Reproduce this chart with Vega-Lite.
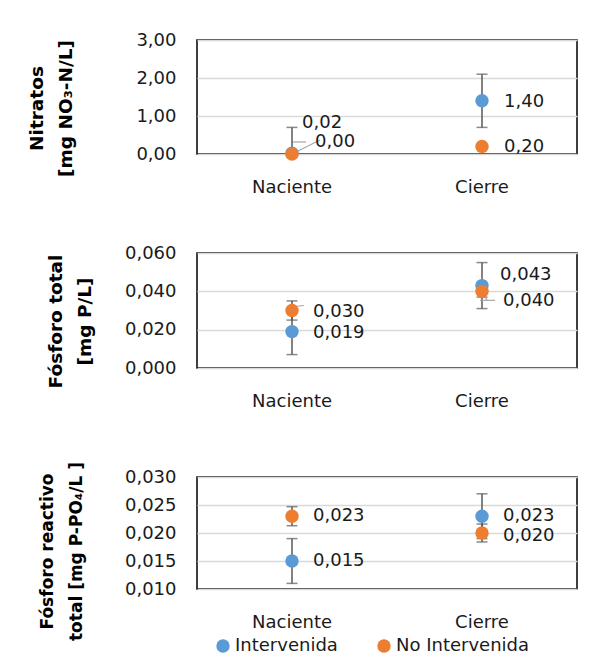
{
  "$schema": "https://vega.github.io/schema/vega-lite/v6.json",
  "autosize": {"type": "pad"},
  "padding": {"left": 26, "top": 30, "right": 5, "bottom": 5},
  "background": "white",
  "data": {
    "values": [
      {"panel": "Nitratos", "sitio": "Naciente", "grupo": "Intervenida", "valor": 0.02, "err": 0.68},
      {"panel": "Nitratos", "sitio": "Naciente", "grupo": "No Intervenida", "valor": 0.00, "err": 0},
      {"panel": "Nitratos", "sitio": "Cierre", "grupo": "Intervenida", "valor": 1.40, "err": 0.70},
      {"panel": "Nitratos", "sitio": "Cierre", "grupo": "No Intervenida", "valor": 0.20, "err": 0},
      {"panel": "Fósforo total", "sitio": "Naciente", "grupo": "Intervenida", "valor": 0.019, "err": 0.012},
      {"panel": "Fósforo total", "sitio": "Naciente", "grupo": "No Intervenida", "valor": 0.030, "err": 0.005},
      {"panel": "Fósforo total", "sitio": "Cierre", "grupo": "Intervenida", "valor": 0.043, "err": 0.012},
      {"panel": "Fósforo total", "sitio": "Cierre", "grupo": "No Intervenida", "valor": 0.040, "err": 0.003},
      {"panel": "Fósforo reactivo total", "sitio": "Naciente", "grupo": "Intervenida", "valor": 0.015, "err": 0.004},
      {"panel": "Fósforo reactivo total", "sitio": "Naciente", "grupo": "No Intervenida", "valor": 0.023, "err": 0.0017},
      {"panel": "Fósforo reactivo total", "sitio": "Cierre", "grupo": "Intervenida", "valor": 0.023, "err": 0.004},
      {"panel": "Fósforo reactivo total", "sitio": "Cierre", "grupo": "No Intervenida", "valor": 0.020, "err": 0.0016}
    ]
  },
  "config": {
    "locale": {"number": {"decimal": ",", "thousands": ".", "grouping": [3], "currency": ["", " €"]}},
    "font": "DejaVu Sans",
    "view": {"stroke": "#000000", "strokeWidth": 1.5},
    "axis": {
      "labelFont": "DejaVu Sans", "labelFontSize": 18, "labelColor": "#1a1a1a",
      "titleFont": "DejaVu Sans", "titleFontWeight": "bold", "titleFontSize": 18.5, "titleColor": "#000000",
      "domain": false, "ticks": false, "gridColor": "#d9d9d9", "gridWidth": 1.3
    },
    "axisX": {"grid": false, "labelAngle": 0, "labelPadding": 24},
    "axisY": {"labelPadding": 21, "titleBaseline": "middle", "titleLineHeight": 29, "titleAngle": 270, "titleAlign": "center"},
    "legend": {
      "orient": "none", "legendX": 17, "legendY": 597, "direction": "horizontal",
      "padding": 0, "symbolType": "circle", "symbolSize": 180, "symbolStrokeWidth": 0,
      "labelFont": "DejaVu Sans", "labelFontSize": 18, "labelColor": "#1a1a1a",
      "labelOffset": 3, "columnPadding": 37, "title": null
    },
    "text": {"font": "DejaVu Sans", "fontSize": 18, "fill": "#1a1a1a", "align": "left", "baseline": "middle"}
  },
  "resolve": {"scale": {"x": "independent", "y": "independent", "color": "shared"}},
  "spacing": 46,
  "vconcat": [
    {
      "width": 380,
      "height": 114,
      "transform": [{"filter": "datum.panel == 'Nitratos'"}],
      "encoding": {
        "x": {"field": "sitio", "type": "nominal", "sort": ["Naciente", "Cierre"], "title": null,
              "scale": {"paddingInner": 0, "paddingOuter": 0}},
        "y": {"field": "valor", "type": "quantitative",
              "scale": {"domain": [0, 3], "nice": false, "zero": false, "clamp": true},
              "axis": {"values": [0, 1, 2, 3], "format": ".2f", "title": ["Nitratos", "[mg NO₃-N/L]"], "titleX": -161, "titleY": 68}}
      },
      "layer": [
        {"mark": {"type": "errorbar", "color": "#595959", "thickness": 1.5, "ticks": {"size": 11, "color": "#595959"}},
         "encoding": {"yError": {"field": "err"}}},
        {"mark": {"type": "rule", "color": "#a6a6a6", "strokeWidth": 1.2, "x2Offset": 28, "y2Offset": -14},
         "transform": [{"filter": "datum.sitio == 'Naciente' && datum.grupo == 'No Intervenida'"}],
         "encoding": {"x2": {"field": "sitio"}, "y2": {"field": "valor"}}},
        {"mark": {"type": "rule", "color": "#a6a6a6", "strokeWidth": 1.2, "xOffset": 1, "x2Offset": 14, "yOffset": -12, "y2Offset": -12},
         "transform": [{"filter": "datum.sitio == 'Naciente' && datum.grupo == 'No Intervenida'"}],
         "encoding": {"x2": {"field": "sitio"}, "y2": {"field": "valor"}}},
        {"mark": {"type": "point", "filled": true, "shape": "circle", "size": 180, "opacity": 1, "strokeWidth": 0},
         "encoding": {"color": {"field": "grupo", "type": "nominal",
                                "scale": {"domain": ["Intervenida", "No Intervenida"], "range": ["#5B9BD5", "#ED7D31"]}}}},
        {"mark": {"type": "text", "dx": 22, "dy": 1},
         "transform": [{"filter": "datum.sitio == 'Cierre'"}],
         "encoding": {"text": {"field": "valor", "type": "quantitative", "format": ".2f"}}},
        {"mark": {"type": "text", "dx": 10, "dy": -30},
         "transform": [{"filter": "datum.sitio == 'Naciente' && datum.grupo == 'Intervenida'"}],
         "encoding": {"text": {"field": "valor", "type": "quantitative", "format": ".2f"}}},
        {"mark": {"type": "text", "dx": 23, "dy": -12},
         "transform": [{"filter": "datum.sitio == 'Naciente' && datum.grupo == 'No Intervenida'"}],
         "encoding": {"text": {"field": "valor", "type": "quantitative", "format": ".2f"}}}
      ]
    },
    {
      "width": 380,
      "height": 115,
      "transform": [{"filter": "datum.panel == 'Fósforo total'"}],
      "encoding": {
        "x": {"field": "sitio", "type": "nominal", "sort": ["Naciente", "Cierre"], "title": null,
              "scale": {"paddingInner": 0, "paddingOuter": 0}},
        "y": {"field": "valor", "type": "quantitative",
              "scale": {"domain": [0, 0.06], "nice": false, "zero": false},
              "axis": {"values": [0, 0.02, 0.04, 0.06], "format": ".3f", "title": ["Fósforo total", "[mg P/L]"], "titleX": -142, "titleY": 68}}
      },
      "layer": [
        {"mark": {"type": "errorbar", "color": "#595959", "thickness": 1.5, "ticks": {"size": 11, "color": "#595959"}},
         "encoding": {"yError": {"field": "err"}}},
        {"mark": {"type": "rule", "color": "#a6a6a6", "strokeWidth": 1.2, "xOffset": 3, "yOffset": -4, "x2Offset": 12, "y2Offset": -5},
         "transform": [{"filter": "datum.sitio == 'Naciente' && datum.grupo == 'No Intervenida'"}],
         "encoding": {"x2": {"field": "sitio"}, "y2": {"field": "valor"}}},
        {"mark": {"type": "rule", "color": "#a6a6a6", "strokeWidth": 1.2, "x2Offset": 5, "y2Offset": 9},
         "transform": [{"filter": "datum.sitio == 'Cierre' && datum.grupo == 'No Intervenida'"}],
         "encoding": {"x2": {"field": "sitio"}, "y2": {"field": "valor"}}},
        {"mark": {"type": "rule", "color": "#a6a6a6", "strokeWidth": 1.2, "xOffset": -2, "x2Offset": 13, "yOffset": 9, "y2Offset": 9},
         "transform": [{"filter": "datum.sitio == 'Cierre' && datum.grupo == 'No Intervenida'"}],
         "encoding": {"x2": {"field": "sitio"}, "y2": {"field": "valor"}}},
        {"mark": {"type": "point", "filled": true, "shape": "circle", "size": 180, "opacity": 1, "strokeWidth": 0},
         "encoding": {"color": {"field": "grupo", "type": "nominal",
                                "scale": {"domain": ["Intervenida", "No Intervenida"], "range": ["#5B9BD5", "#ED7D31"]}}}},
        {"mark": {"type": "text", "dx": 21, "dy": 1},
         "transform": [{"filter": "datum.sitio == 'Naciente'"}],
         "encoding": {"text": {"field": "valor", "type": "quantitative", "format": ".3f"}}},
        {"mark": {"type": "text", "dx": 18, "dy": -11},
         "transform": [{"filter": "datum.sitio == 'Cierre' && datum.grupo == 'Intervenida'"}],
         "encoding": {"text": {"field": "valor", "type": "quantitative", "format": ".3f"}}},
        {"mark": {"type": "text", "dx": 21, "dy": 10},
         "transform": [{"filter": "datum.sitio == 'Cierre' && datum.grupo == 'No Intervenida'"}],
         "encoding": {"text": {"field": "valor", "type": "quantitative", "format": ".3f"}}}
      ]
    },
    {
      "width": 380,
      "height": 112,
      "transform": [{"filter": "datum.panel == 'Fósforo reactivo total'"}],
      "encoding": {
        "x": {"field": "sitio", "type": "nominal", "sort": ["Naciente", "Cierre"], "title": null,
              "scale": {"paddingInner": 0, "paddingOuter": 0}},
        "y": {"field": "valor", "type": "quantitative",
              "scale": {"domain": [0.01, 0.03], "nice": false, "zero": false},
              "axis": {"values": [0.01, 0.015, 0.02, 0.025, 0.03], "format": ".3f", "title": ["Fósforo reactivo", "total  [mg P-PO₄/L ]"],
                       "titleFontSize": 17, "titleX": -150, "titleY": 74}}
      },
      "layer": [
        {"mark": {"type": "errorbar", "color": "#595959", "thickness": 1.5, "ticks": {"size": 11, "color": "#595959"}},
         "encoding": {"yError": {"field": "err"}}},
        {"mark": {"type": "point", "filled": true, "shape": "circle", "size": 180, "opacity": 1, "strokeWidth": 0},
         "encoding": {"color": {"field": "grupo", "type": "nominal",
                                "scale": {"domain": ["Intervenida", "No Intervenida"], "range": ["#5B9BD5", "#ED7D31"]}}}},
        {"mark": {"type": "text", "dx": 21, "dy": 0},
         "transform": [{"filter": "!(datum.sitio == 'Cierre' && datum.grupo == 'No Intervenida')"}],
         "encoding": {"text": {"field": "valor", "type": "quantitative", "format": ".3f"}}},
        {"mark": {"type": "text", "dx": 21, "dy": 3},
         "transform": [{"filter": "datum.sitio == 'Cierre' && datum.grupo == 'No Intervenida'"}],
         "encoding": {"text": {"field": "valor", "type": "quantitative", "format": ".3f"}}}
      ]
    }
  ]
}
